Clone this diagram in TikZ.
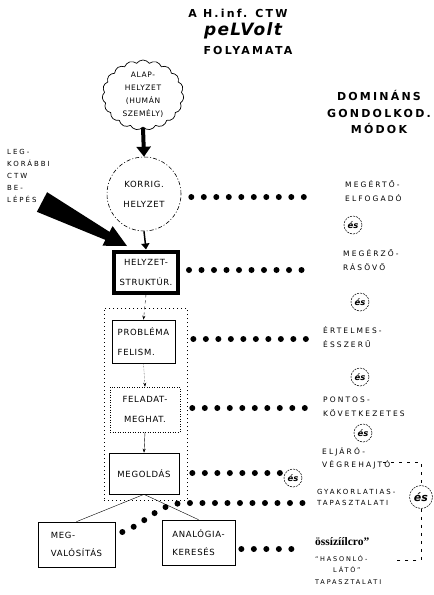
\documentclass[tikz,border=0pt]{standalone}
\usepackage{fontspec}
\usepackage{tikz}
\usetikzlibrary{shapes.symbols,arrows.meta}
\setmainfont{DejaVu Sans}
\newfontfamily\handfont[LetterSpace=8]{DejaVu Sans}
\newfontfamily\handwide[LetterSpace=28]{DejaVu Sans}
\newfontfamily\handheavy[LetterSpace=20]{DejaVu Sans}
\newfontfamily\titlefont[LetterSpace=8]{DejaVu Sans}
\newfontfamily\printfont{Liberation Serif}

\begin{document}
\begin{tikzpicture}[
		every node/.style={inner sep=0pt, align=center, font=\handfont\fontsize{8.5}{20}\selectfont},
		boxnode/.style={draw, line width=0.7pt},
		heavybox/.style={boxnode, line width=4pt},
		dotbox/.style={boxnode, line width=0.6pt, dash pattern=on 1pt off 1.5pt},
		heading/.style={font=\handheavy\bfseries\fontsize{11}{16.5}\selectfont},
		mode/.style={anchor=west, align=left, font=\handwide\fontsize{7.5}{14}\selectfont},
		esnode/.style={circle, draw, line width=0.5pt, dash pattern=on 2pt off 1pt, minimum size=18pt, font=\bfseries\itshape\fontsize{8.5}{9}\selectfont},
		bigdots/.style={line width=6pt, line cap=round, dash pattern=on 0pt off 12.5pt},
		bracket/.style={line width=0.6pt, dash pattern=on 3pt off 5pt}
	]
  \useasboundingbox (0pt,0pt) rectangle (434pt,-595pt);

  \node (t_1) [heading] at (238pt,-13pt) {A H.inf. CTW};
  \node (t_2) [font=\titlefont\bfseries\itshape\fontsize{17}{18}\selectfont] at (243pt,-31pt) {peLVolt};
  \node (t_3) [heading] at (248pt,-50pt) {FOLYAMATA};

  \node (s_keret) [draw, line width=0.6pt, dash pattern=on 1pt off 3pt, minimum width=83pt, minimum height=192pt] at (145.5pt,-404pt) {};

  \node (s_alap) [cloud, draw, line width=0.7pt, cloud puffs=19, cloud puff arc=110, aspect=1.2, minimum width=80pt, minimum height=66pt, font=\handfont\fontsize{7.5}{13}\selectfont] at (143pt,-95pt) {ALAP-\\HELYZET\\(HUMÁN\\SZEMÉLY)};
  \node (s_korrig) [circle, draw, line width=0.6pt, dash pattern=on 4pt off 2pt on 1pt off 2pt, minimum size=74pt] at (144pt,-194pt) {KORRIG.\\HELYZET};
  \node (s_struktur) [heavybox, minimum width=64pt, minimum height=41pt] at (146pt,-272pt) {HELYZET-\\STRUKTÚR.};
  \node (s_problema) [boxnode, align=left, minimum width=63pt, minimum height=43pt] at (143.5pt,-341.5pt) {PROBLÉMA\\FELISM.};
  \node (s_feladat) [dotbox, minimum width=70pt, minimum height=45pt] at (145pt,-409.5pt) {FELADAT-\\MEGHAT.};
  \node (s_megoldas) [boxnode, minimum width=70pt, minimum height=41pt] at (144pt,-473.5pt) {MEGOLDÁS};
  \node (s_megval) [boxnode, align=left, minimum width=77pt, minimum height=45pt, font=\handfont\fontsize{8.5}{18}\selectfont] at (76.5pt,-544.5pt) {MEG-\\VALÓSÍTÁS};
  \node (s_analogia) [boxnode, align=left, minimum width=73pt, minimum height=45pt, font=\handfont\fontsize{8.5}{18}\selectfont] at (198.5pt,-542.5pt) {ANALÓGIA-\\KERESÉS};

  \node (s_leg) [anchor=north west, align=left, font=\handwide\fontsize{7}{12}\selectfont] at (7pt,-149pt) {LEG-\\KORÁBBI\\CTW\\BE-\\LÉPÉS};
  \fill (47.1pt,-192.2pt) -- (109.6pt,-231.9pt) -- (112.6pt,-226.1pt) -- (127pt,-246pt) -- (102.4pt,-245.7pt) -- (105.4pt,-239.9pt) -- (36.9pt,-211.8pt) -- cycle;

  \draw [line width=4pt, -{Triangle[length=10pt,width=14pt]}] (s_alap.south) -- (s_korrig.north);
  \draw [line width=1.5pt, -{Triangle[length=6pt,width=8pt]}] (s_korrig.south) -- (s_struktur.north);
  \draw [dashed, -{Stealth[length=4pt]}] (s_struktur.south) -- (s_problema.north);
  \draw [densely dotted, -{Stealth[length=4pt]}] (s_problema.south) -- (s_feladat.north);
  \draw [-{Stealth[length=4pt]}] (s_feladat.south) -- (s_megoldas.north);
  \draw (s_megoldas.south) -- (s_megval.north);
  \draw (s_megoldas.south) -- (s_analogia.north);

  \node (d_head) [heading] at (379pt,-112pt) {DOMINÁNS\\GONDOLKOD.\\MÓDOK};
  \node (m_1) [mode] at (345pt,-191pt) {MEGÉRTŐ-\\ELFOGADÓ};
  \node (es_1) [esnode] at (353pt,-225pt) {és};
  \node (m_2) [mode] at (343pt,-260pt) {MEGÉRZŐ-\\RÁSÖVŐ};
  \node (es_2) [esnode] at (360pt,-302pt) {és};
  \node (m_3) [mode] at (323pt,-337pt) {ÉRTELMES-\\ÉSSZERŰ};
  \node (es_3) [esnode] at (360pt,-377pt) {és};
  \node (m_4) [mode] at (323pt,-407pt) {PONTOS-\\KÖVETKEZETES};
  \node (es_4) [esnode] at (363pt,-433pt) {és};
  \node (m_5) [mode, font=\handwide\fontsize{7.5}{13}\selectfont] at (322pt,-458pt) {ELJÁRÓ-\\VÉGREHAJTÓ};
  \node (es_5) [esnode] at (293pt,-478pt) {és};
  \node (m_6) [mode, font=\handwide\fontsize{7}{11}\selectfont] at (317pt,-497pt) {GYAKORLATIAS-\\TAPASZTALATI};
  \node (es_6) [esnode, minimum size=23pt, font=\bfseries\itshape\fontsize{11}{12}\selectfont] at (421pt,-497pt) {és};
  \node (m_7) [anchor=west, font=\printfont\bfseries\fontsize{11.5}{12}\selectfont] at (315pt,-542pt) {össízíílcro”};
  \node (m_8) [mode, font=\handwide\fontsize{6.5}{11.5}\selectfont] at (315pt,-570pt) {“HASONLÓ-\\\hspace{18pt}LÁTÓ”\\TAPASZTALATI};

  \coordinate (b_1) at (383pt,-462pt);
  \coordinate (b_2) at (421pt,-462pt);
  \coordinate (b_3) at (393pt,-560pt);
  \coordinate (b_4) at (421pt,-560pt);
  \draw [bracket] (b_1) -- (b_2) -- (es_6.north);
  \draw [bracket] (es_6.south) -- (b_4) -- (b_3);

  \draw [bigdots] ([xshift=10pt,yshift=-3pt]s_korrig.east) -- ([xshift=-37pt,yshift=-6pt]m_1.west);
  \draw [bigdots] ([xshift=9pt,yshift=2pt]s_struktur.east) -- ([xshift=-35pt,yshift=-10pt]m_2.west);
  \draw [bigdots] ([xshift=18pt,yshift=2.5pt]s_problema.east) -- ([xshift=-10pt,yshift=-2pt]m_3.west);
  \draw [bigdots] ([xshift=12pt,yshift=1.5pt]s_feladat.east) -- ([xshift=-10pt,yshift=-1pt]m_4.west);
  \draw [bigdots] ([xshift=13pt,yshift=0.5pt]s_megoldas.east) -- ([yshift=5pt]es_5.west);
  \draw [bigdots] ([xshift=7pt,yshift=12.5pt]s_megval.east) to [out=20, in=180] ([xshift=-132pt,yshift=-6pt]m_6.west) -- ([xshift=-14pt,yshift=-6pt]m_6.west);
  \draw [bigdots] ([xshift=6pt,yshift=-6.5pt]s_analogia.east) -- ([xshift=-12pt,yshift=-7pt]m_7.west);
\end{tikzpicture}
\end{document}
